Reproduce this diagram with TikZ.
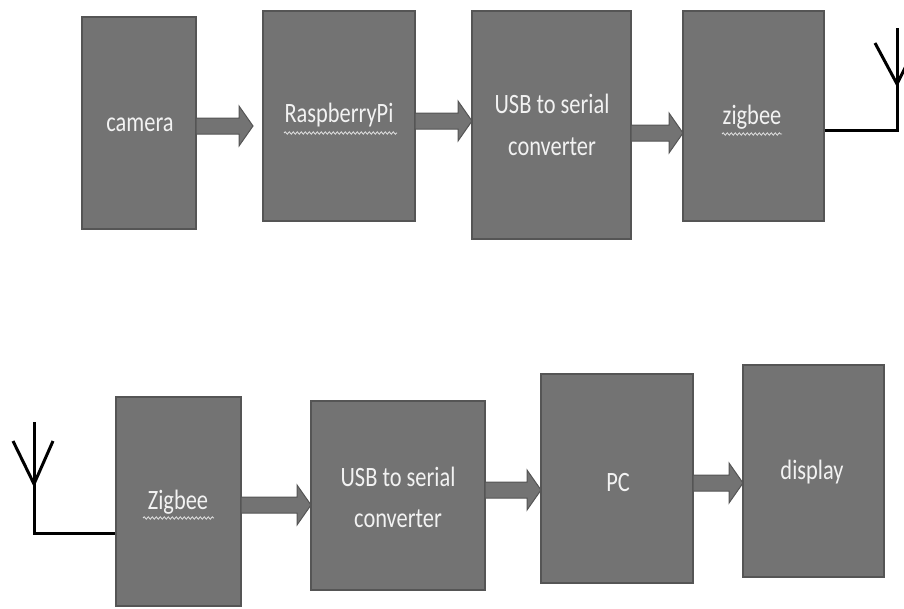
\documentclass[tikz,border=0pt]{standalone}
\usepackage{fontspec}
\setmainfont{Carlito}
\usetikzlibrary{decorations.pathmorphing}
\definecolor{boxfill}{HTML}{737373}
\definecolor{boxline}{HTML}{555555}
\definecolor{txt}{HTML}{F2F2F2}
\tikzset{
  blk/.style={draw=boxline, line width=1.5pt, fill=boxfill},
  lbl/.style={text=txt, font=\fontsize{28}{34}\selectfont, align=center, inner sep=0pt},
  arr/.style={draw=boxline, line width=1pt, fill=boxfill},
  ant/.style={line width=3pt, black, line join=miter},
  wavy/.style={draw=txt!85!gray, line width=0.8pt, decorate, decoration={snake, amplitude=1.2pt, segment length=4pt}}
}
\newcommand{\blkarrow}[3]{% x1 x2 y
  \fill[arr] (#1,#3+8) -- (#2-14,#3+8) -- (#2-14,#3+20) -- (#2,#3) -- (#2-14,#3-20) -- (#2-14,#3-8) -- (#1,#3-8) -- cycle;}
\begin{document}
\begin{tikzpicture}[x=1pt,y=-1pt]
\useasboundingbox (0,0) rectangle (904,608);
% row 1
\path[blk] (82,17) rectangle (196,229);
\path[blk] (263,11) rectangle (415,221);
\path[blk] (472,11) rectangle (631,239);
\path[blk] (683,11) rectangle (824,221);
\node[lbl] (tcam) at (140,125) {\scalebox{0.8}[1]{camera}};
\node[lbl] (trpi) at (339,115) {\scalebox{0.8}[1]{RaspberryPi}};
\node[lbl] (tusb1) at (552,104) {\scalebox{0.8}[1]{USB to serial}};
\node[lbl] (tconv1) at (552,147) {\scalebox{0.8}[1]{converter}};
\node[lbl] (tzig1) at (752,117) {\scalebox{0.8}[1]{zigbee}};
\draw[wavy] (284,133) -- (397,133);
\draw[wavy] (722,134) -- (782,134);
\blkarrow{196}{253}{126}
\blkarrow{415}{472}{121}
\blkarrow{631}{683}{133}
% antenna right
\draw[ant] (825,130) -- (897,130) -- (897,28);
\draw[ant] (875,43) -- (897,84) -- (910,58);
% row 2
\path[blk] (116,397) rectangle (241,606);
\path[blk] (311,401) rectangle (485,590);
\path[blk] (541,374) rectangle (693,583);
\path[blk] (743,365) rectangle (884,577);
\node[lbl] (tzig2) at (178,502) {\scalebox{0.8}[1]{Zigbee}};
\node[lbl] (tusb2) at (398,477) {\scalebox{0.8}[1]{USB to serial}};
\node[lbl] (tconv2) at (398,519) {\scalebox{0.8}[1]{converter}};
\node[lbl] (tpc) at (618,483) {\scalebox{0.8}[1]{PC}};
\node[lbl] (tdisp) at (812,472) {\scalebox{0.8}[1]{display}};
\draw[wavy] (143,518) -- (214,518);
\blkarrow{241}{311}{505}
\blkarrow{485}{541}{490}
\blkarrow{693}{743}{483}
% antenna left
\draw[ant] (115,533) -- (34,533) -- (34,422);
\draw[ant] (13,441) -- (34,484) -- (53,441);
\end{tikzpicture}
\end{document}
